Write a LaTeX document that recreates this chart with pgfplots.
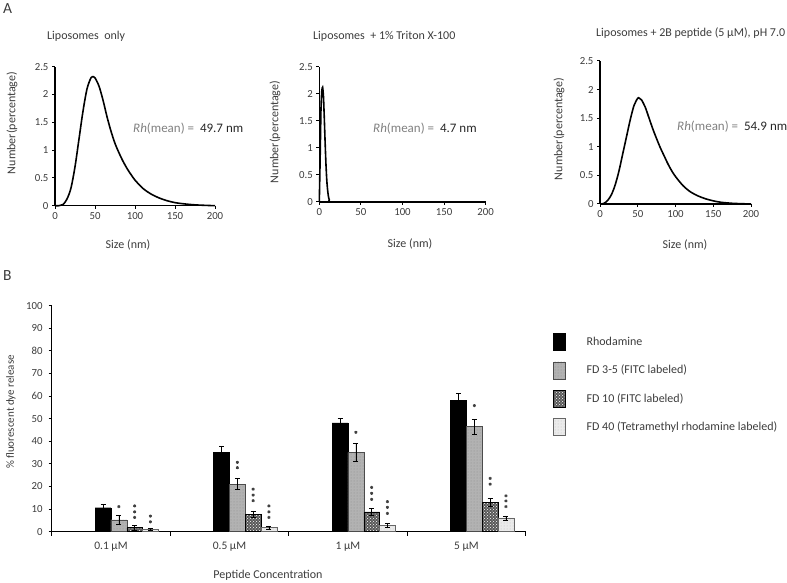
\documentclass[border=0pt]{standalone}
\usepackage{fontspec}
\setmainfont{Carlito}
\usepackage{pgfplots}
\pgfplotsset{compat=1.18}
\usetikzlibrary{patterns}
\definecolor{txt}{RGB}{60,60,60}
\pgfplotsset{
 dls/.style={scale only axis, anchor=south west, xmin=0,xmax=200,ymin=0,ymax=2.5,
  axis x line*=bottom, axis y line*=left, axis line style={-, line width=1.2pt, black},
  xtick={0,50,100,150,200}, ytick={0,0.5,1,1.5,2,2.5},
  tick align=outside, major tick length=3pt, tick style={line width=1pt, black},
  font=\fontsize{10.8}{13}\selectfont, /pgf/number format/assume math mode=true,
  tick label style={text=txt}, clip=false},
 barleg/.style={/pgfplots/legend image code/.code={\draw[##1] (0pt,-8.5pt) rectangle (12pt,8.5pt); \path (33pt,0pt);}},
}
\begin{document}
\begin{tikzpicture}
\path[use as bounding box] (0pt,0pt) rectangle (787pt,583pt);
% Panel 1
\begin{axis}[dls, at={(55pt,377.3pt)}, width=160pt, height=139pt]
\addplot[line width=1.6pt, smooth, black] table {
0 0
5 0
10 0.02
15 0.12
20 0.32
25 0.70
30 1.20
35 1.70
40 2.10
45 2.30
48 2.32
50 2.30
55 2.15
60 1.90
65 1.60
70 1.34
75 1.12
80 0.95
85 0.80
90 0.67
95 0.56
100 0.46
110 0.31
120 0.21
130 0.14
140 0.09
150 0.055
160 0.035
175 0.015
190 0.005
200 0
};
\end{axis}
% Panel 2
\begin{axis}[dls, at={(319.3pt,381pt)}, width=166.4pt, height=135.3pt]
\addplot[line width=1.6pt, smooth, tension=0.4, black] table {
0 0
1 0.8
2 1.7
3 2.05
4 2.12
5 1.95
6 1.55
7 1.1
8 0.7
9 0.4
10 0.22
11 0.1
12 0.04
14 0
50 0
200 0
};
\end{axis}
% Panel 3
\begin{axis}[dls, at={(600pt,379pt)}, width=151pt, height=143pt]
\addplot[line width=1.6pt, smooth, black] table {
0 0
5 0.01
10 0.06
15 0.16
20 0.33
25 0.57
30 0.87
35 1.17
40 1.47
45 1.72
50 1.85
52 1.85
55 1.82
60 1.69
65 1.50
70 1.31
75 1.14
80 0.98
85 0.84
90 0.70
95 0.58
100 0.48
110 0.32
120 0.21
130 0.14
140 0.09
150 0.055
160 0.03
175 0.012
190 0.004
200 0
};
\end{axis}
% Bar chart
\begin{axis}[scale only axis, anchor=south west, at={(51.7pt,51.3pt)}, width=474pt, height=226pt,
 xmin=-0.5, xmax=3.5, ymin=0, ymax=100, ytick={0,10,20,30,40,50,60,70,80,90,100},
 xtick={0,1,2,3}, xticklabels={0.1 µM, 0.5 µM, 1 µM, 5 µM},
 minor xtick={-0.5,0.5,1.5,2.5,3.5},
 axis x line*=bottom, axis y line*=left, axis line style={-, line width=1.2pt, black},
 tick align=outside, major tick length=3pt, minor tick length=4pt,
 major x tick style={draw=none}, minor x tick style={line width=1pt, black},
 major y tick style={line width=1pt, black},
 font=\fontsize{10.8}{13}\selectfont, /pgf/number format/assume math mode=true,
 tick label style={text=txt}, clip=false,
 xticklabel style={font=\fontsize{11.5}{13}\selectfont, yshift=-4pt},
 yticklabel style={xshift=-2.5pt},
 legend style={at={(1.0576,0.879)}, anchor=north west, draw=none, fill=none, inner sep=0pt,
   row sep=11pt, nodes={inner sep=0pt, anchor=west, text=txt}, font=\fontsize{12}{14}\selectfont},
 legend cell align=left]
\addplot[ybar, bar width=0.1333, bar shift=0pt, fill=black, draw=black, barleg,
 error bars/.cd, y dir=both, y explicit, error bar style={line width=0.6pt, black},
 error mark options={rotate=90, mark size=2.5pt, line width=0.6pt, black}]
 coordinates {(-0.0667,10.6) +- (0,1.6) (0.9333,35.1) +- (0,2.5) (1.9333,48.2) +- (0,1.8) (2.9333,58.0) +- (0,3.2)};
\addlegendentry{Rhodamine}
\addplot[ybar, bar width=0.1333, bar shift=0pt, fill=black!30, draw=black!70, postaction={pattern=dots, pattern color=black!45}, barleg,
 error bars/.cd, y dir=both, y explicit, error bar style={line width=0.6pt, black},
 error mark options={rotate=90, mark size=2.5pt, line width=0.6pt, black}]
 coordinates {(0.0667,5.2) +- (0,2.0) (1.0667,21.1) +- (0,2.5) (2.0667,35.1) +- (0,4.0) (3.0667,46.5) +- (0,3.2)};
\addlegendentry{FD 3-5 (FITC labeled)}
\addplot[ybar, bar width=0.1333, bar shift=0pt, fill=black!65, draw=black, postaction={pattern=crosshatch dots, pattern color=white}, barleg,
 error bars/.cd, y dir=both, y explicit, error bar style={line width=0.6pt, black},
 error mark options={rotate=90, mark size=2.5pt, line width=0.6pt, black}]
 coordinates {(0.2,1.8) +- (0,1.0) (1.2,7.7) +- (0,1.5) (2.2,8.8) +- (0,1.5) (3.2,13.0) +- (0,1.8)};
\addlegendentry{FD 10 (FITC labeled)}
\addplot[ybar, bar width=0.1333, bar shift=0pt, fill=black!8, draw=black!60, postaction={pattern=dots, pattern color=black!25}, barleg,
 error bars/.cd, y dir=both, y explicit, error bar style={line width=0.6pt, black},
 error mark options={rotate=90, mark size=2.5pt, line width=0.6pt, black}]
 coordinates {(0.3333,1.0) +- (0,0.5) (1.3333,1.8) +- (0,0.8) (2.3333,2.9) +- (0,0.8) (3.3333,6.1) +- (0,0.9)};
\addlegendentry{FD 40 (Tetramethyl rhodamine labeled)}
\addplot[only marks, mark=asterisk, mark size=1.5pt, black!75, mark options={line width=0.9pt}, forget plot] coordinates {
(0.0667,11.1) (0.2,11.4) (0.2,8.8) (0.2,6.3) (0.3333,6.9) (0.3333,4.4)
(1.0667,30.7) (1.0667,28.3) (1.2,18.8) (1.2,16.2) (1.2,13.7) (1.3333,11.4) (1.3333,8.8) (1.3333,6.3)
(2.0667,44) (2.2,19.6) (2.2,17) (2.2,14.3) (2.3333,13.3) (2.3333,10.8) (2.3333,8.1)
(3.0667,55.8) (3.2,23.6) (3.2,21) (3.3333,15.9) (3.3333,13.6) (3.3333,11.1)};
\end{axis}
% Texts
\begin{scope}[every node/.style={text=txt, font=\fontsize{12}{14}\selectfont, inner sep=0pt}]
\node[anchor=west, font=\fontsize{15.5}{18}\selectfont] at (3pt,574pt) {A};
\node[anchor=west, font=\fontsize{15.5}{18}\selectfont] at (3pt,307pt) {B};
\node[anchor=west] at (47pt,547pt) {Liposomes\ \ only};
\node[anchor=west] at (313pt,547pt) {Liposomes\ \ + 1\% Triton X-100};
\node[anchor=west] at (596pt,550pt) {Liposomes + 2B peptide (5 µM), pH 7.0};
\node[anchor=west, font=\fontsize{13}{15}\selectfont] at (133pt,454pt) {{\color{gray}\textit{Rh}(mean) =}\ \ {\color{black!85}49.7 nm}};
\node[anchor=west, font=\fontsize{13}{15}\selectfont] at (373pt,454pt) {{\color{gray}\textit{Rh}(mean) =}\ \ {\color{black!85}4.7 nm}};
\node[anchor=west, font=\fontsize{13}{15}\selectfont] at (677pt,456pt) {{\color{gray}\textit{Rh}(mean) =}\ \ {\color{black!85}54.9 nm}};
\node[rotate=90] at (12pt,460pt) {Number(percentage)};
\node[rotate=90] at (275pt,451pt) {Number(percentage)};
\node[rotate=90] at (559pt,454pt) {Number(percentage)};
\node at (128pt,338pt) {Size (nm)};
\node at (410pt,339pt) {Size (nm)};
\node at (685pt,338pt) {Size (nm)};
\node[rotate=90, font=\fontsize{11}{13}\selectfont] at (11pt,171pt) {\% fluorescent dye release};
\node at (268pt,7.3pt) {Peptide Concentration};
\end{scope}
\end{tikzpicture}
\end{document}
